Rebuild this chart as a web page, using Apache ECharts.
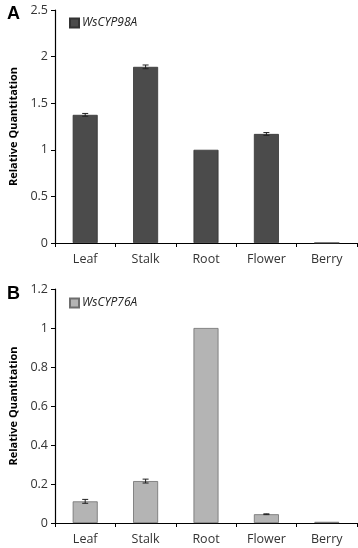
<!DOCTYPE html>
<html>
<head>
<meta charset="utf-8">
<script src="https://cdn.jsdelivr.net/npm/echarts@6/dist/echarts.min.js"></script>
<style>
  html, body { margin: 0; padding: 0; background: #fff; }
  #chart { width: 358px; height: 548px; }
</style>
</head>
<body>
<div id="chart"></div>
<script>
var categories = ['Leaf', 'Stalk', 'Root', 'Flower', 'Berry'];

var cyp98Values = [1.375, 1.89, 1.0, 1.17, 0];
var cyp98Errors = [0.015, 0.02, 0, 0.015, 0];

var cyp76Values = [0.111, 0.215, 1.0, 0.045, 0.006];
var cyp76Errors = [0.01, 0.01, 0, 0.002, 0];

var yTicksA = { min: 0, max: 2.5, interval: 0.5 };
var yTicksB = { min: 0, max: 1.2, interval: 0.2 };

var font = 'Open Sans, Liberation Sans, sans-serif';

function errorSeries(values, errors, axisIdx) {
    return {
        type: 'custom',
        xAxisIndex: axisIdx,
        yAxisIndex: axisIdx,
        z: 5,
        data: values.map(function (v, i) { return [i, v - errors[i], v + errors[i]]; }),
        renderItem: function (params, api) {
            if (api.value(2) - api.value(1) <= 0) return null;
            var lo = api.coord([api.value(0), api.value(1)]);
            var hi = api.coord([api.value(0), api.value(2)]);
            var w = 3;
            var style = { stroke: '#222', lineWidth: 1 };
            return {
                type: 'group',
                children: [
                    { type: 'line', shape: { x1: hi[0], y1: hi[1], x2: lo[0], y2: lo[1] }, style: style },
                    { type: 'line', shape: { x1: hi[0] - w, y1: hi[1], x2: hi[0] + w, y2: hi[1] }, style: style },
                    { type: 'line', shape: { x1: lo[0] - w, y1: lo[1], x2: lo[0] + w, y2: lo[1] }, style: style }
                ]
            };
        }
    };
}

function xAxis(idx) {
    return {
        type: 'category',
        gridIndex: idx,
        data: categories,
        axisLine: { lineStyle: { color: '#000', width: 1.2 } },
        axisTick: { show: true, length: 4, lineStyle: { color: '#000' } },
        axisLabel: { color: '#333', fontSize: 12.5, fontFamily: font, margin: 10 }
    };
}

function yAxis(idx, ticks) {
    return {
        type: 'value',
        gridIndex: idx,
        min: ticks.min,
        max: ticks.max,
        interval: ticks.interval,
        name: 'Relative Quantitation',
        nameLocation: 'middle',
        nameGap: 36,
        nameTextStyle: { fontWeight: 'bold', fontSize: 11, color: '#000', fontFamily: font },
        axisLine: { show: true, lineStyle: { color: '#000', width: 1.2 } },
        axisTick: { show: true, length: 4, lineStyle: { color: '#000' } },
        axisLabel: { color: '#333', fontSize: 12.5, fontFamily: font, margin: 7 },
        splitLine: { show: false }
    };
}

var chart = echarts.init(document.getElementById('chart'));
chart.setOption({
    animation: false,
    backgroundColor: '#fff',
    title: [
        { text: 'A', left: 2, top: 0, textStyle: { fontSize: 18, fontWeight: 'bold', color: '#000', fontFamily: 'Liberation Sans, sans-serif' } },
        { text: 'B', left: 2, top: 280, textStyle: { fontSize: 18, fontWeight: 'bold', color: '#000', fontFamily: 'Liberation Sans, sans-serif' } }
    ],
    legend: [
        {
            data: [{ name: 'WsCYP98A', icon: 'rect' }], left: 64, top: 12, itemWidth: 9, itemHeight: 9, itemGap: 4,
            textStyle: { fontStyle: 'italic', fontSize: 12, color: '#222', fontFamily: font, padding: [0, 0, 0, -2] }
        },
        {
            data: [{ name: 'WsCYP76A', icon: 'rect' }], left: 64, top: 292, itemWidth: 9, itemHeight: 9, itemGap: 4,
            textStyle: { fontStyle: 'italic', fontSize: 12, color: '#222', fontFamily: font, padding: [0, 0, 0, -2] }
        }
    ],
    grid: [
        { left: 52, top: 10, width: 305, height: 233 },
        { left: 52, top: 289, width: 305, height: 234 }
    ],
    xAxis: [xAxis(0), xAxis(1)],
    yAxis: [yAxis(0, yTicksA), yAxis(1, yTicksB)],
    series: [
        {
            name: 'WsCYP98A', type: 'bar', xAxisIndex: 0, yAxisIndex: 0,
            data: cyp98Values, barWidth: 25,
            itemStyle: { color: '#4b4b4b', borderColor: '#333', borderWidth: 0.8 }
        },
        errorSeries(cyp98Values, cyp98Errors, 0),
        {
            name: 'WsCYP76A', type: 'bar', xAxisIndex: 1, yAxisIndex: 1,
            data: cyp76Values, barWidth: 25,
            itemStyle: { color: '#b4b4b4', borderColor: '#6e6e6e', borderWidth: 0.8 }
        },
        errorSeries(cyp76Values, cyp76Errors, 1)
    ]
});
</script>
</body>
</html>
